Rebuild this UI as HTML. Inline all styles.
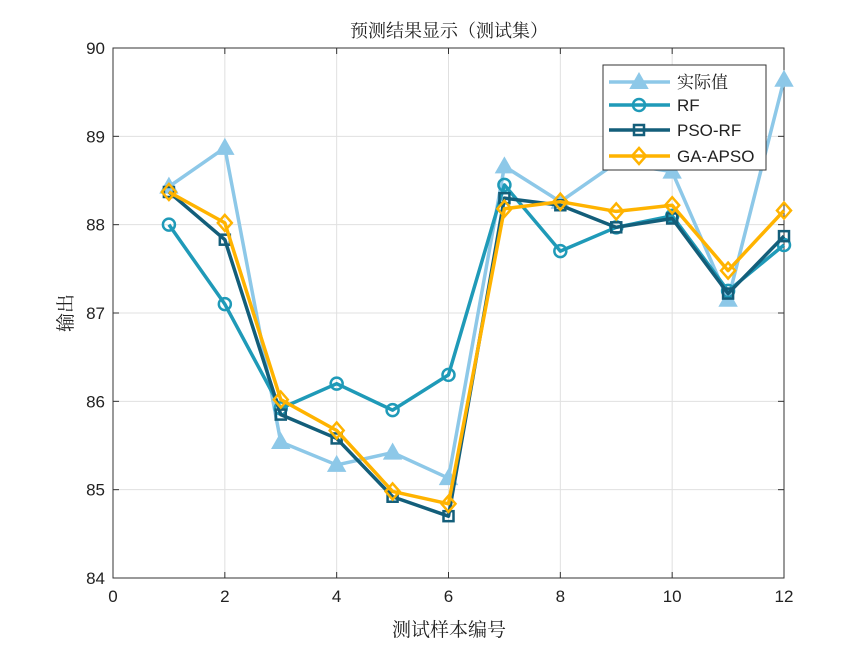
<!DOCTYPE html>
<html><head><meta charset="utf-8"><style>
body{margin:0;background:#fff;}
svg text{font-family:"Liberation Sans","Noto Sans CJK SC",sans-serif;}
svg text.cn{font-family:"Liberation Serif","Noto Serif CJK SC",serif;}
</style></head><body>
<svg id="s" width="865" height="649" xmlns="http://www.w3.org/2000/svg"></svg>
<script>
const X0=113,X1=784,Y0=48,Y1=578;
const fx=v=>X0+(X1-X0)*v/12, fy=v=>Y0+(Y1-Y0)*(90-v)/6;
let h='<rect width="865" height="649" fill="#fff"/>';
for(let i=0;i<=12;i+=2){h+=`<line x1="${fx(i)}" y1="${Y0}" x2="${fx(i)}" y2="${Y1}" stroke="#e0e0e0" stroke-width="1"/>`;
h+=`<line x1="${fx(i)}" y1="${Y1}" x2="${fx(i)}" y2="${Y1-6}" stroke="#333"/><line x1="${fx(i)}" y1="${Y0}" x2="${fx(i)}" y2="${Y0+6}" stroke="#333"/>`;
h+=`<text x="${fx(i)}" y="${Y1+24}" font-size="17" text-anchor="middle" fill="#222">${i}</text>`;}
for(let v=84;v<=90;v++){h+=`<line x1="${X0}" y1="${fy(v)}" x2="${X1}" y2="${fy(v)}" stroke="#e0e0e0"/>`;
h+=`<line x1="${X0}" y1="${fy(v)}" x2="${X0+6}" y2="${fy(v)}" stroke="#333"/><line x1="${X1}" y1="${fy(v)}" x2="${X1-6}" y2="${fy(v)}" stroke="#333"/>`;
h+=`<text x="${X0-8}" y="${fy(v)+6}" font-size="17" text-anchor="end" fill="#222">${v}</text>`;}
h+=`<rect x="${X0}" y="${Y0}" width="${X1-X0}" height="${Y1-Y0}" fill="none" stroke="#333" stroke-width="1"/>`;
const S=[
{c:"#8DC8E8",m:"tri",d:[88.43,88.87,85.54,85.28,85.42,85.13,88.66,88.26,88.7,88.6,87.15,89.64]},
{c:"#1F9AB8",m:"cir",d:[88.0,87.1,85.92,86.2,85.9,86.3,88.45,87.7,87.97,88.1,87.25,87.77]},
{c:"#135E7A",m:"sq",d:[88.37,87.83,85.85,85.58,84.92,84.7,88.3,88.22,87.97,88.07,87.22,87.87]},
{c:"#FFB300",m:"dia",d:[88.37,88.02,86.02,85.67,84.98,84.84,88.18,88.26,88.15,88.22,87.48,88.16]}];
function mk(m,x,y,c){
 if(m=="tri")return `<polygon points="${x},${y-8} ${x-8},${y+6} ${x+8},${y+6}" fill="${c}" stroke="${c}" stroke-width="2"/>`;
 if(m=="cir")return `<circle cx="${x}" cy="${y}" r="6" fill="none" stroke="${c}" stroke-width="2.5"/>`;
 if(m=="sq")return `<rect x="${x-5}" y="${y-5}" width="10" height="10" fill="none" stroke="${c}" stroke-width="2.5"/>`;
 return `<polygon points="${x},${y-8} ${x+7},${y} ${x},${y+8} ${x-7},${y}" fill="none" stroke="${c}" stroke-width="2.5"/>`;}
for(const s of S){let p=s.d.map((v,i)=>fx(i+1)+","+fy(v)).join(" ");
h+=`<polyline points="${p}" fill="none" stroke="${s.c}" stroke-width="3.5" stroke-linejoin="round"/>`;
s.d.forEach((v,i)=>h+=mk(s.m,fx(i+1),fy(v),s.c));}
h+=`<rect x="603" y="65" width="163" height="105" fill="#fff" stroke="#333"/>`;
const L=["实际值","RF","PSO-RF","GA-APSO"],ly=[82,105,130,156];
S.forEach((s,i)=>{h+=`<line x1="609" y1="${ly[i]}" x2="670" y2="${ly[i]}" stroke="${s.c}" stroke-width="3.5"/>`+mk(s.m,639,ly[i],s.c)+`<text ${i==0?'class="cn"':''} x="677" y="${ly[i]+6}" font-size="17" fill="#222">${L[i]}</text>`;});
h+=`<text class="cn" x="449" y="37" font-size="18" text-anchor="middle" fill="#222">预测结果显示（测试集）</text>`;
h+=`<text class="cn" x="449" y="636" font-size="19" text-anchor="middle" fill="#222">测试样本编号</text>`;
h+=`<text class="cn" transform="translate(72,313) rotate(-90)" font-size="19" text-anchor="middle" fill="#222">输出</text>`;
document.getElementById("s").innerHTML=h;
</script>
</body></html>
